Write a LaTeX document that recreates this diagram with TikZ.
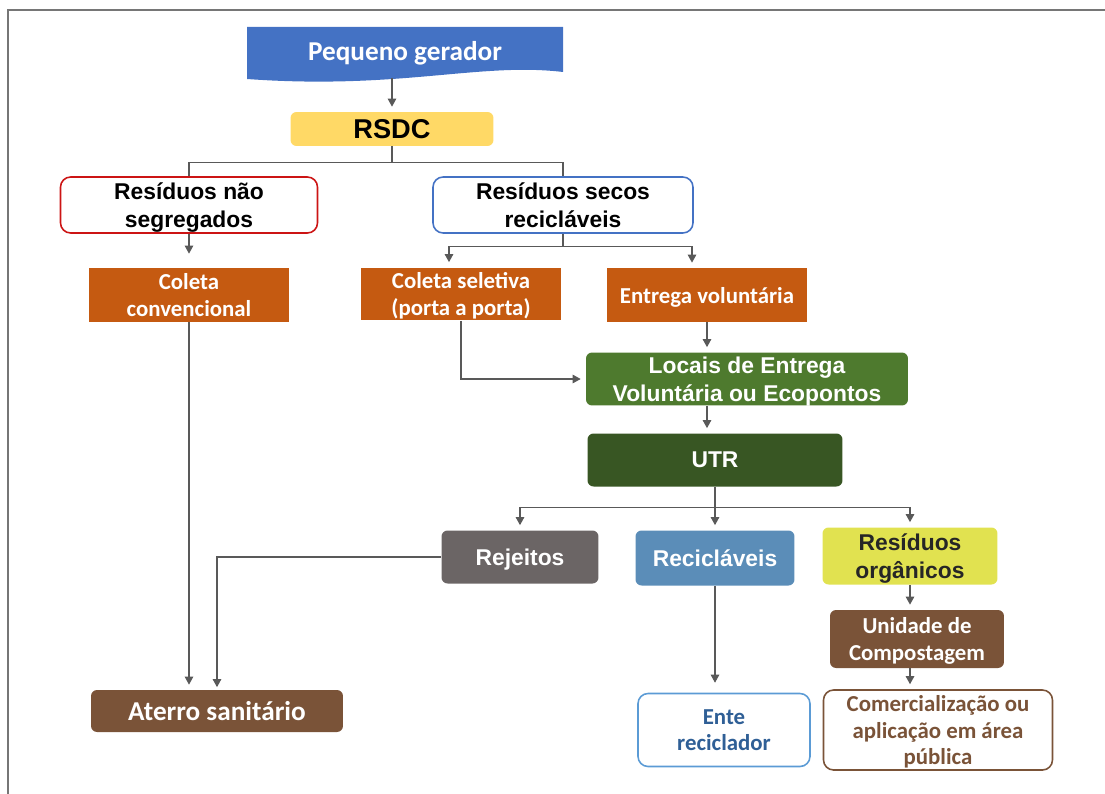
\documentclass[tikz,border=0pt]{standalone}
\usepackage{fontspec}
\setmainfont{Liberation Sans}
\newfontfamily\calfont{Carlito}
\usetikzlibrary{arrows.meta,calc}

\definecolor{pgblue}{RGB}{68,114,196}
\definecolor{rsdcyel}{RGB}{255,217,102}
\definecolor{segred}{RGB}{204,20,20}
\definecolor{coleta}{RGB}{197,90,17}
\definecolor{locgreen}{RGB}{78,122,46}
\definecolor{utrgreen}{RGB}{56,86,35}
\definecolor{rejgrey}{RGB}{107,101,101}
\definecolor{recblue}{RGB}{91,141,184}
\definecolor{orgyel}{RGB}{225,226,80}
\definecolor{compbrown}{RGB}{122,83,56}
\definecolor{enteblue}{RGB}{91,155,213}
\definecolor{entetext}{RGB}{47,95,150}
\definecolor{lingrey}{RGB}{89,89,89}
\definecolor{framegrey}{RGB}{118,118,118}

\begin{document}
\begin{tikzpicture}[x=0.02cm,y=-0.02cm,
  arial/.style={font=\bfseries\fontsize{13}{16}\selectfont},
  calib/.style={font=\calfont\bfseries\fontsize{13}{15}\selectfont},
  box/.style={align=center,inner sep=0pt,text depth=0pt},
  roundbox/.style={box,rounded corners=1.2mm},
  linebox/.style={box,rounded corners=2mm,fill=white,line width=0.9pt},
  link/.style={draw=lingrey,line width=0.6pt},
  arr/.style={link,-{Triangle[length=1.6mm,width=1.7mm]},shorten >=1mm}]
  \useasboundingbox (0,0) rectangle (1105,794);
  % frame
  \draw[framegrey,line width=1.2pt] (8,794) -- (8,10) -- (1105,10);

  % top of the tree
  \fill[pgblue] (247,27) -- (563,27) -- (563,72)
    .. controls (480,62) and (400,90) .. (247,79) -- cycle;
  \node[box,minimum width=6.32cm,minimum height=1.06cm,text=white,
    font=\calfont\bfseries\fontsize{15.5}{18}\selectfont] (pg) at (405,51) {Pequeno gerador};
  \node[roundbox,fill=rsdcyel,minimum width=4.06cm,minimum height=0.68cm,
    font=\bfseries\fontsize{15.5}{18}\selectfont] (rsdc) at (392,129) {RSDC};

  \node[linebox,arial,draw=segred,minimum width=5.14cm,minimum height=1.12cm] (naoseg) at (189,205) {Resíduos não\\segregados};
  \node[linebox,arial,draw=pgblue,minimum width=5.2cm,minimum height=1.12cm] (secos) at (563,205) {Resíduos secos\\recicláveis};

  % coletas
  \node[box,calib,fill=coleta,text=white,minimum width=4.02cm,minimum height=1.08cm] (colconv) at (189,295) {Coleta\\convencional};
  \node[box,calib,fill=coleta,text=white,minimum width=4.0cm,minimum height=1.06cm] (colsel) at (461,294) {Coleta seletiva\\(porta a porta)};
  \node[box,calib,fill=coleta,text=white,minimum width=4.02cm,minimum height=1.08cm] (entvol) at (707,295) {Entrega voluntária};

  \node[roundbox,arial,fill=locgreen,text=white,minimum width=6.44cm,minimum height=1.06cm] (locais) at (747,379) {Locais de Entrega\\Voluntária ou Ecopontos};
  \node[roundbox,arial,fill=utrgreen,text=white,minimum width=5.1cm,minimum height=1.06cm] (utr) at (715,460) {UTR};

  % destinos
  \node[roundbox,arial,fill=rejgrey,text=white,minimum width=3.14cm,minimum height=1.06cm] (rejeitos) at (520,557) {Rejeitos};
  \node[roundbox,arial,fill=recblue,text=white,minimum width=3.18cm,minimum height=1.1cm] (recic) at (715,558) {Recicláveis};
  \node[roundbox,arial,fill=orgyel,text=black!85,minimum width=3.5cm,minimum height=1.14cm] (organ) at (910,556) {Resíduos\\orgânicos};
  \node[roundbox,calib,fill=compbrown,text=white,minimum width=3.48cm,minimum height=1.16cm] (compost) at (917,639) {Unidade de\\Compostagem};

  \node[roundbox,fill=compbrown,text=white,minimum width=5.04cm,minimum height=0.84cm,
    font=\calfont\bfseries\fontsize{15.5}{18}\selectfont] (aterro) at (217,711) {Aterro sanitário};
  \node[linebox,calib,draw=enteblue,text=entetext,minimum width=3.44cm,minimum height=1.46cm] (ente) at (724,730) {Ente\\reciclador};
  \node[linebox,calib,draw=compbrown,text=compbrown,minimum width=4.58cm,minimum height=1.6cm] (comerc) at (938,730) {Comercialização ou\\aplicação em área\\pública};

  % connectors
  \draw[arr] (rsdc.north |- pg.south) -- (rsdc.north);
  \draw[link] (rsdc.south) -- ++(0,16) coordinate (rbus);
  \draw[link] (rbus) -| (naoseg.north);
  \draw[link] (rbus) -| (secos.north);
  \draw[arr,shorten >=2.8mm] (naoseg.south) -- (colconv.north);
  \draw[link] (secos.south) -- ++(0,13) coordinate (sbus);
  \draw[arr] (sbus) -| ([xshift=-0.24cm]colsel.north);
  \draw[arr] (sbus) -| ([xshift=-0.3cm]entvol.north);
  \draw[arr] (colsel.south) |- (locais.west);
  \draw[arr] (entvol.south) -- (entvol.south |- locais.north);
  \draw[arr] (entvol.south |- locais.south) -- (entvol.south |- utr.north);
  \draw[link] (utr.south) -- ++(0,21) coordinate (ubus);
  \draw[arr] (ubus) -| (rejeitos.north);
  \draw[arr] (ubus) -- (recic.north);
  \draw[arr] (ubus) -| (organ.north);
  \draw[arr] (colconv.south) -- (colconv.south |- aterro.north);
  \draw[arr,shorten >=0.5mm] (rejeitos.west) -| (aterro.north);
  \draw[arr,shorten >=2mm] (recic.south) -- (recic.south |- ente.north);
  \draw[arr] (organ.south) -- (organ.south |- compost.north);
  \draw[arr] (organ.south |- compost.south) -- (organ.south |- comerc.north);
\end{tikzpicture}
\end{document}
